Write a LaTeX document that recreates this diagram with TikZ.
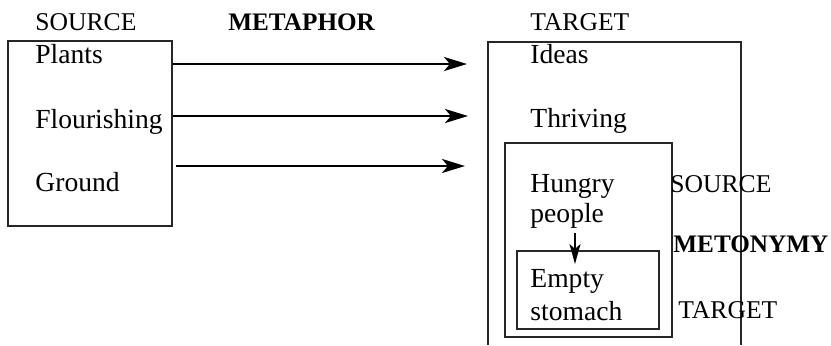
\documentclass[tikz,border=0pt]{standalone}
\usepackage{fontspec}
\setmainfont{Liberation Serif}
\usetikzlibrary{positioning,arrows.meta}

\begin{document}
\begin{tikzpicture}[
    x=0.5pt, y=-0.5pt,
    frame/.style={rectangle, draw=black!85, line width=0.7pt, inner sep=0pt},
    word/.style={anchor=base west, inner sep=0pt, font=\fontsize{13.8}{16}\selectfont},
    head/.style={anchor=base west, inner sep=0pt, font=\fontsize{12.8}{15}\selectfont},
    kind/.style={anchor=base west, inner sep=0pt, font=\fontsize{12.6}{15}\selectfont\bfseries},
    maps/.style={-{Stealth[length=11.5pt, width=7pt, inset=3pt]}, line width=1.4pt},
    part/.style={-{Stealth[length=10pt, width=5.5pt, inset=2.5pt]}, line width=1.1pt},
]
\useasboundingbox (0,0) rectangle (831,345);

% metaphor: source domain
\node[frame, minimum width=82pt, minimum height=92.5pt] (srcbox) at (90,133.5) {};
\node[head] (srclabel) at (35,30) {SOURCE};
\node[kind] (metaphor) at (228,30) {METAPHOR};
\node[word] (plants) at (35,63) {Plants};
\node[word] (flourishing) at (35,128) {Flourishing};
\node[word] (ground) at (35,191) {Ground};

% metaphor: target domain (box runs off the bottom)
\draw[draw=black!85, line width=0.7pt] (488,345) |- (741,42) -- (741,345);
\node[head] (tgtlabel) at (530,30) {TARGET};
\node[word] (ideas) at (530,63) {Ideas};
\node[word] (thriving) at (530,127) {Thriving};

% metonymy inside the target
\node[frame, minimum width=83.5pt, minimum height=97pt] (metbox) at (588.5,240) {};
\node[frame, minimum width=71pt, minimum height=39pt] (stomachbox) at (588,290) {};
\node[word] (hungry) at (530,192) {Hungry};
\node[word] (people) at (530,222) {people};
\node[word] (empty) at (530,287) {Empty};
\node[word] (stomach) at (530,320) {stomach};
\node[head] (mtsource) at (670,192) {SOURCE};
\node[kind] (metonymy) at (673,252) {METONYMY};
\node[head] (mttarget) at (678,318) {TARGET};

% mappings
\coordinate (m1) at (467,64);
\coordinate (m2) at (468,116);
\coordinate (m3) at (465,166);
\draw[maps] (srcbox.east |- m1) -- (m1);
\draw[maps] (srcbox.east |- m2) -- (m2);
\draw[maps] ([xshift=1.5pt]srcbox.east |- m3) -- (m3);

\coordinate (hp) at (575,233);
\coordinate (es) at (575,264);
\draw[part] (hp) -- (es);
\end{tikzpicture}
\end{document}
